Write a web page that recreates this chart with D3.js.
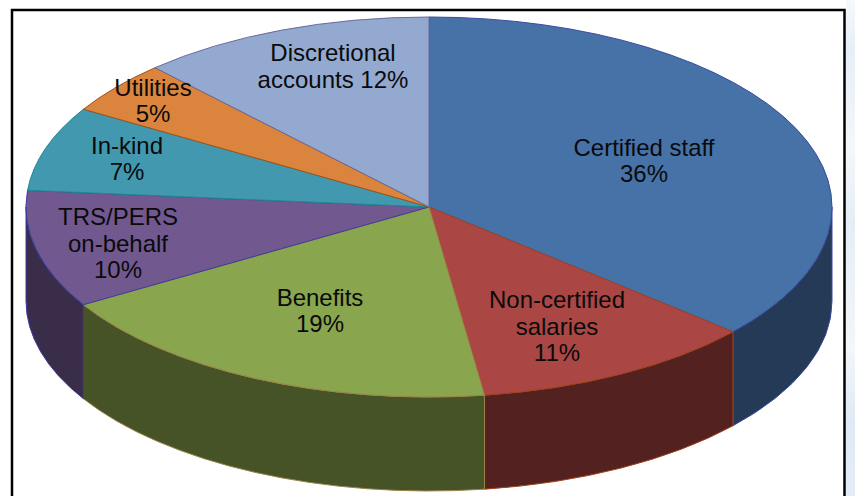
<!DOCTYPE html>
<html><head><meta charset="utf-8">
<script src="https://cdn.jsdelivr.net/npm/d3@7"></script>
<style>html,body{margin:0;padding:0;background:#fff;overflow:hidden}svg{display:block}text{font-family:"Liberation Sans",Arial,sans-serif;fill:#0a0a0a}</style>
</head><body><svg id="c" width="855" height="496"></svg>
<script>
const categories = ["Certified staff","Non-certified salaries","Benefits","TRS/PERS on-behalf","In-kind","Utilities","Discretional accounts"];
// slice shares as drawn in the picture; the printed labels are the rounded figures below
const values = [36.4,11.4,18.6,10,7.2,4.5,11.9];
const topColors = ["#4672a8","#aa4644","#89a54e","#71588f","#4198af","#db843d","#93a9cf"];
const sideColors = ["#243a56","#532220","#465326","#3a2d4a","#215060","#70431e","#4b566a"];
const edgeColors = ["#3a4aa0","#a0421a","#9a844a","#3a3aa0","#1a8a90","#a0501a","#6a6a9a"];
const labelLines = [["Certified staff","36%"],["Non-certified","salaries","11%"],["Benefits","19%"],["TRS/PERS","on-behalf","10%"],["In-kind","7%"],["Utilities","5%"],["Discretional","accounts 12%"]];
const labelCenters = [[644,161],[557,326.5],[320,311],[118,243.5],[127,159],[153,101],[333,66.5]];

const cx=429, cy=207, rx=403, ry=190, depth=94;
const svg=d3.select("#c");
const defs=svg.append("defs");
const grad=defs.append("linearGradient").attr("id","bg").attr("x1",0).attr("y1",0).attr("x2",0).attr("y2",1);
[[0,"#f6f9fc"],[0.1,"#e6eef7"],[0.3,"#f4f7fb"],[0.45,"#e4edf6"],[0.7,"#f3f6fa"],[0.85,"#dfe9f5"],[1,"#e4edf7"]]
  .forEach(s=>grad.append("stop").attr("offset",s[0]).attr("stop-color",s[1]));
svg.append("rect").attr("width",855).attr("height",496).attr("fill","#fff");
svg.append("rect").attr("x",846).attr("y",0).attr("width",9).attr("height",496).attr("fill","url(#bg)");
svg.append("rect").attr("x",12).attr("y",10).attr("width",832.5).attr("height",500).attr("fill","#fff").attr("stroke","#000").attr("stroke-width",2.5);

const arcs=d3.pie().sort(null).value(d=>d).startAngle(0).endAngle(2*Math.PI)(values);
const px=a=>cx+rx*Math.sin(a), py=a=>cy-ry*Math.cos(a);
const large=(a,b)=>(b-a)>Math.PI?1:0;
const g=svg.append("g");
arcs.forEach((d,i)=>{
  const a=Math.max(d.startAngle,Math.PI/2), b=Math.min(d.endAngle,3*Math.PI/2);
  if(b<=a) return;
  g.append("path")
   .attr("d",`M${px(a)},${py(a)}A${rx},${ry} 0 ${large(a,b)} 1 ${px(b)},${py(b)}L${px(b)},${py(b)+depth}A${rx},${ry} 0 ${large(a,b)} 0 ${px(a)},${py(a)+depth}Z`)
   .attr("fill",sideColors[i]).attr("stroke",edgeColors[i]).attr("stroke-width",1);
});
arcs.forEach((d,i)=>{
  const a=d.startAngle,b=d.endAngle;
  g.append("path")
   .attr("d",`M${cx},${cy}L${px(a)},${py(a)}A${rx},${ry} 0 ${large(a,b)} 1 ${px(b)},${py(b)}Z`)
   .attr("fill",topColors[i]).attr("stroke",edgeColors[i]).attr("stroke-width",1);
});
const lh=26.6;
labelLines.forEach((lines,i)=>{
  const t=svg.append("text").attr("text-anchor","middle").attr("font-size",24);
  lines.forEach((s,j)=>{
    t.append("tspan").attr("x",labelCenters[i][0])
     .attr("y",labelCenters[i][1]+(j-(lines.length-1)/2)*lh+8).text(s);
  });
});
</script></body></html>
